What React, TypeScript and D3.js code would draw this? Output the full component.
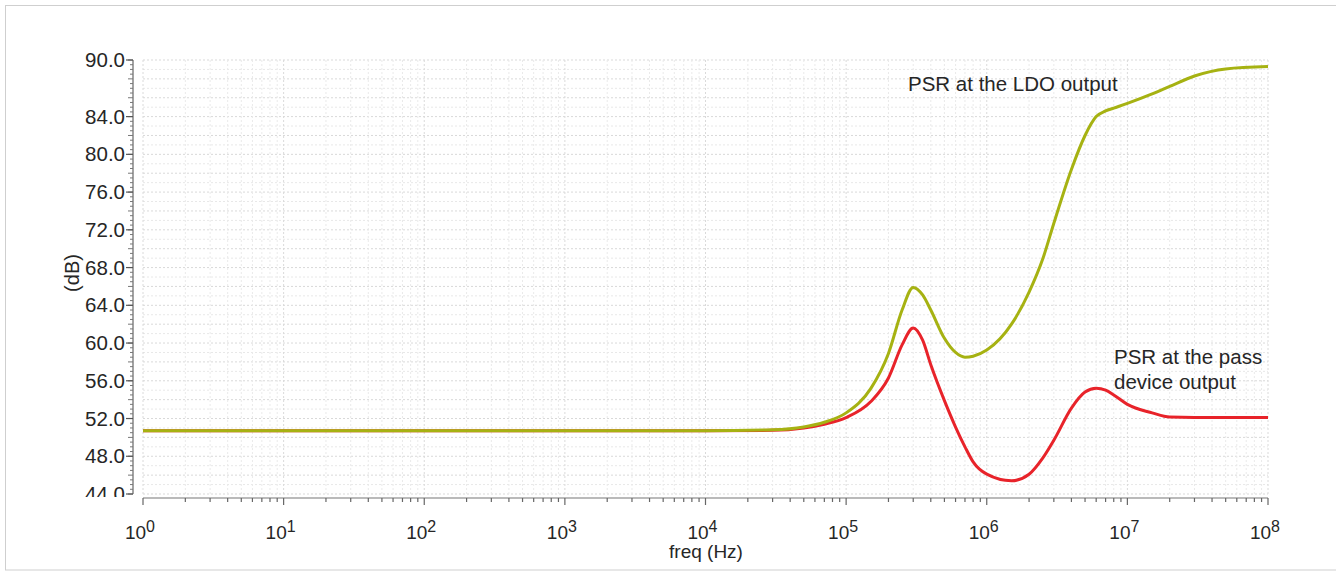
import React from "react";
import * as d3 from "d3";

// Frequency sweep points (Hz)
const freqs = [1, 1e4, 3e4, 5e4, 7e4, 1e5, 1.5e5, 2e5, 2.5e5, 3e5, 3.5e5, 4e5, 5e5, 6e5, 7e5, 8e5, 1e6, 1.5e6, 2e6, 2.5e6, 3e6, 4e6, 5e6, 6e6, 7e6, 8e6, 1e7, 1.5e7, 2e7, 3e7, 5e7, 1e8];

// PSR at the LDO output (dB)
const psrLdo = [50.7, 50.7, 50.8, 51.1, 51.6, 52.6, 55.2, 58.9, 63.5, 65.9, 65.1, 63.5, 60.5, 59.0, 58.5, 58.6, 59.25, 62.0, 65.4, 68.9, 72.7, 78.4, 82.0, 84.0, 84.6, 84.9, 85.4, 86.4, 87.2, 88.3, 89.05, 89.3];

// PSR at the pass device output (dB)
const psrPass = [50.7, 50.7, 50.75, 51.0, 51.4, 52.1, 53.8, 56.3, 59.8, 61.6, 60.3, 57.7, 53.9, 51.1, 49.0, 47.4, 46.1, 45.4, 46.1, 47.8, 49.7, 53.1, 54.8, 55.2, 55.0, 54.5, 53.5, 52.6, 52.15, 52.1, 52.1, 52.1];

const yTickValues = [44, 48, 52, 56, 60, 64, 68, 72, 76, 80, 84, 90];
const decades = [0, 1, 2, 3, 4, 5, 6, 7, 8];

const W = 1336;
const H = 572;
const left = 143;
const right = 1268;
const top = 60;
const bottom = 494;
const yAxisX = 133;
const xAxisY = 498;

const font = "'Liberation Sans', Arial, Helvetica, sans-serif";
const textColor = "#262626";

export default function App() {
  const x = d3.scaleLog().domain([1, 1e8]).range([left, right]);
  const y = d3.scaleLinear().domain([44, 90]).range([bottom, top]);

  const line = d3
    .line<number>()
    .x((_, i) => x(freqs[i]))
    .y((d) => y(d))
    .curve(d3.curveMonotoneX);

  // log-scale minor positions (1..9 per decade)
  const minorFreqs: number[] = [];
  for (const dec of decades.slice(0, -1)) {
    for (let m = 1; m <= 9; m++) minorFreqs.push(m * Math.pow(10, dec));
  }
  minorFreqs.push(1e8);

  const gridDb = d3.range(44, 90.01, 1);
  const yMinor = d3.range(44, 90.01, 0.5);

  return (
    <svg
      width={W}
      height={H}
      style={{ position: "absolute", left: 0, top: 0, background: "#fff" }}
      fontFamily={font}
    >
      <defs>
        <clipPath id="ylabels-clip">
          <rect x={0} y={0} width={140} height={497} />
        </clipPath>
      </defs>

      {/* outer frame */}
      <rect x={5.5} y={5.5} width={1340} height={564.5} fill="none" stroke="#cfcfcf" strokeWidth={1} />

      {/* grid */}
      <g>
        {gridDb.map((v) => (
          <line
            key={"h" + v}
            x1={left}
            x2={right}
            y1={y(v)}
            y2={y(v)}
            stroke={v % 2 === 0 ? "#d9d9d9" : "#e8e8e8"}
            strokeWidth={1}
            strokeDasharray="2,2"
          />
        ))}
        {minorFreqs.map((f, i) => (
          <line
            key={"v" + i}
            x1={x(f)}
            x2={x(f)}
            y1={top}
            y2={bottom}
            stroke={Math.abs(Math.log10(f) % 1) < 1e-9 ? "#dadada" : "#eaeaea"}
            strokeWidth={1}
            strokeDasharray="2,2"
          />
        ))}
      </g>

      {/* y axis */}
      <g>
        <line x1={yAxisX} x2={yAxisX} y1={top} y2={bottom} stroke="#666" strokeWidth={1.2} />
        {yMinor.map((v) => (
          <line
            key={"ym" + v}
            x1={yAxisX - (v % 2 === 0 ? 5 : 3)}
            x2={yAxisX}
            y1={y(v)}
            y2={y(v)}
            stroke="#777"
            strokeWidth={1}
          />
        ))}
        {yTickValues.map((v) => (
          <line key={"yt" + v} x1={yAxisX - 7} x2={yAxisX} y1={y(v)} y2={y(v)} stroke="#555" strokeWidth={1.2} />
        ))}
        <g clipPath="url(#ylabels-clip)">
          {yTickValues.map((v) => (
            <text
              key={"yl" + v}
              x={125}
              y={y(v) + 7}
              textAnchor="end"
              fontSize={20.5}
              fill={textColor}
            >
              {v.toFixed(1)}
            </text>
          ))}
        </g>
        <text
          transform={`translate(79, 273) rotate(-90)`}
          textAnchor="middle"
          fontSize={20}
          fill={textColor}
        >
          (dB)
        </text>
      </g>

      {/* x axis */}
      <g>
        <line x1={left} x2={right} y1={xAxisY} y2={xAxisY} stroke="#777" strokeWidth={1.2} />
        {minorFreqs.map((f, i) => {
          const major = Math.abs(Math.log10(f) % 1) < 1e-9;
          return (
            <line
              key={"xt" + i}
              x1={x(f)}
              x2={x(f)}
              y1={xAxisY}
              y2={xAxisY + (major ? 7 : 4)}
              stroke="#666"
              strokeWidth={1.2}
            />
          );
        })}
        {decades.map((d) => (
          <text key={"xl" + d} x={x(Math.pow(10, d)) - 3} y={539} textAnchor="middle" fontSize={19} fill={textColor}>
            10
            <tspan dy={-7} fontSize={16}>
              {d}
            </tspan>
          </text>
        ))}
        <text x={706} y={558} textAnchor="middle" fontSize={19} fill={textColor}>
          freq (Hz)
        </text>
      </g>

      {/* curves */}
      <path d={line(psrPass) || ""} fill="none" stroke="#e8232a" strokeWidth={3} strokeLinejoin="round" />
      <path d={line(psrLdo) || ""} fill="none" stroke="#a6b212" strokeWidth={3} strokeLinejoin="round" />

      {/* annotations */}
      <text x={908} y={91} fontSize={20.5} fill={textColor}>
        PSR at the LDO output
      </text>
      <text x={1114} y={364} fontSize={20.5} fill={textColor}>
        PSR at the pass
      </text>
      <text x={1114} y={389} fontSize={20.5} fill={textColor}>
        device output
      </text>
    </svg>
  );
}
